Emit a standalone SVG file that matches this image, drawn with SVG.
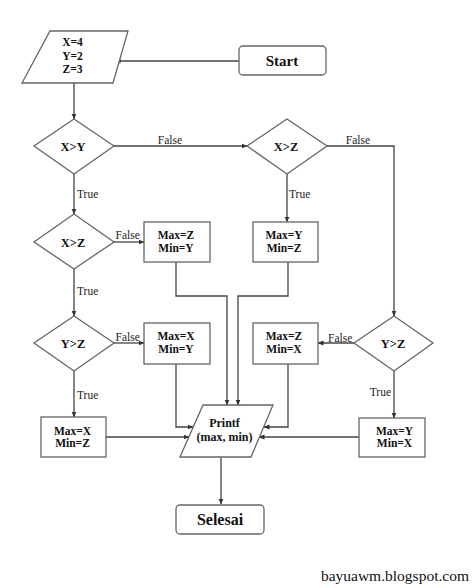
<svg xmlns="http://www.w3.org/2000/svg" width="474" height="588" viewBox="0 0 474 588">
<style>
.sh{fill:#fff;stroke:#666;stroke-width:1.3}
.c{fill:none;stroke:#444;stroke-width:1.3}
.t{font-family:"Liberation Serif",serif;font-weight:bold;fill:#111;text-anchor:middle}
.l{font-family:"Liberation Serif",serif;font-size:11.5px;fill:#222}
</style>
<defs>
<marker id="a" markerWidth="6" markerHeight="6" refX="5.5" refY="3" orient="auto" markerUnits="userSpaceOnUse">
<path d="M0,0.5 L6,3 L0,5.5 z" fill="#333"/>
</marker>
</defs>
<rect width="474" height="588" fill="#fff"/>
<g id="connectors">
<path class="c" d="M239,61 H115" marker-end="url(#a)"/>
<path class="c" d="M74,83 V119" marker-end="url(#a)"/>
<path class="c" d="M114,146 H247" marker-end="url(#a)"/>
<path class="c" d="M327,146 H394 V316" marker-end="url(#a)"/>
<path class="c" d="M74,174 V214" marker-end="url(#a)"/>
<path class="c" d="M287,174 V222" marker-end="url(#a)"/>
<path class="c" d="M114,242 H144" marker-end="url(#a)"/>
<path class="c" d="M74,269 V316" marker-end="url(#a)"/>
<path class="c" d="M114,343 H144" marker-end="url(#a)"/>
<path class="c" d="M74,371 V417" marker-end="url(#a)"/>
<path class="c" d="M354,343 H318" marker-end="url(#a)"/>
<path class="c" d="M394,371 V418" marker-end="url(#a)"/>
<path class="c" d="M176,262 V296 H227 V405" marker-end="url(#a)"/>
<path class="c" d="M288,262 V296 H238 V405" marker-end="url(#a)"/>
<path class="c" d="M176,364 V427 H193" marker-end="url(#a)"/>
<path class="c" d="M288,364 V427 H264" marker-end="url(#a)"/>
<path class="c" d="M106,437 H189" marker-end="url(#a)"/>
<path class="c" d="M359,437 H259" marker-end="url(#a)"/>
<path class="c" d="M221,457 V504" marker-end="url(#a)"/>
<text class="l" x="170" y="144" text-anchor="middle">False</text>
<text class="l" x="358" y="144" text-anchor="middle">False</text>
<text class="l" x="77" y="198">True</text>
<text class="l" x="289" y="198">True</text>
<text class="l" x="115.5" y="239">False</text>
<text class="l" x="77" y="295">True</text>
<text class="l" x="115.5" y="341">False</text>
<text class="l" x="328" y="342">False</text>
<text class="l" x="77" y="399">True</text>
<text class="l" x="391" y="396" text-anchor="end">True</text>
</g>
<g id="start">
<rect class="sh" x="239" y="46" width="87" height="29" rx="4"/>
<text class="t" x="282" y="66" font-size="15">Start</text>
</g>
<g id="input">
<polygon class="sh" points="50,31 128,31 113,83 22,83"/>
<text class="t" x="72.5" y="46" font-size="11.5">X=4</text>
<text class="t" x="72.5" y="60" font-size="11.5">Y=2</text>
<text class="t" x="72.5" y="73" font-size="11.5">Z=3</text>
</g>
<g id="d-xy">
<polygon class="sh" points="74,119 114,146 74,174 34,146"/>
<text class="t" x="73" y="150.5" font-size="12.5">X&gt;Y</text>
</g>
<g id="d-xz-right">
<polygon class="sh" points="287,119 327,146 287,174 247,146"/>
<text class="t" x="286" y="150.5" font-size="12.5">X&gt;Z</text>
</g>
<g id="d-xz-left">
<polygon class="sh" points="74,214 114,242 74,269 34,242"/>
<text class="t" x="73" y="246.5" font-size="12.5">X&gt;Z</text>
</g>
<g id="d-yz-left">
<polygon class="sh" points="74,316 114,343 74,371 34,343"/>
<text class="t" x="73" y="347.5" font-size="12.5">Y&gt;Z</text>
</g>
<g id="d-yz-right">
<polygon class="sh" points="394,316 433,343 394,371 354,343"/>
<text class="t" x="393" y="347.5" font-size="12.5">Y&gt;Z</text>
</g>
<g id="b-zy">
<rect class="sh" x="144" y="222" width="66" height="40"/>
<text class="t" x="176" y="239" font-size="11.5">Max=Z</text>
<text class="t" x="176" y="252" font-size="11.5">Min=Y</text>
</g>
<g id="b-yz">
<rect class="sh" x="253" y="222" width="65" height="40"/>
<text class="t" x="284" y="239" font-size="11.5">Max=Y</text>
<text class="t" x="284" y="252" font-size="11.5">Min=Z</text>
</g>
<g id="b-xy">
<rect class="sh" x="144" y="323" width="66" height="41"/>
<text class="t" x="176" y="340" font-size="11.5">Max=X</text>
<text class="t" x="176" y="353" font-size="11.5">Min=Y</text>
</g>
<g id="b-zx">
<rect class="sh" x="253" y="323" width="65" height="41"/>
<text class="t" x="284" y="340" font-size="11.5">Max=Z</text>
<text class="t" x="284" y="353" font-size="11.5">Min=X</text>
</g>
<g id="b-xz">
<rect class="sh" x="41" y="417" width="65" height="40"/>
<text class="t" x="72.5" y="435" font-size="11.5">Max=X</text>
<text class="t" x="72.5" y="447" font-size="11.5">Min=Z</text>
</g>
<g id="b-yx">
<rect class="sh" x="359" y="418" width="66" height="39"/>
<text class="t" x="394.5" y="435" font-size="11.5">Max=Y</text>
<text class="t" x="394.5" y="447" font-size="11.5">Min=X</text>
</g>
<g id="printf">
<polygon class="sh" points="203,405 273,405 251,457 180,457"/>
<text class="t" x="224.5" y="427" font-size="12">Printf</text>
<text class="t" x="224.5" y="441" font-size="12">(max, min)</text>
</g>
<g id="selesai">
<rect class="sh" x="176" y="505" width="88" height="29" rx="4"/>
<text class="t" x="220" y="524.5" font-size="16">Selesai</text>
</g>
<text x="469" y="581" font-family="Liberation Serif, serif" font-size="15.5" fill="#111" text-anchor="end">bayuawm.blogspot.com</text>
</svg>
